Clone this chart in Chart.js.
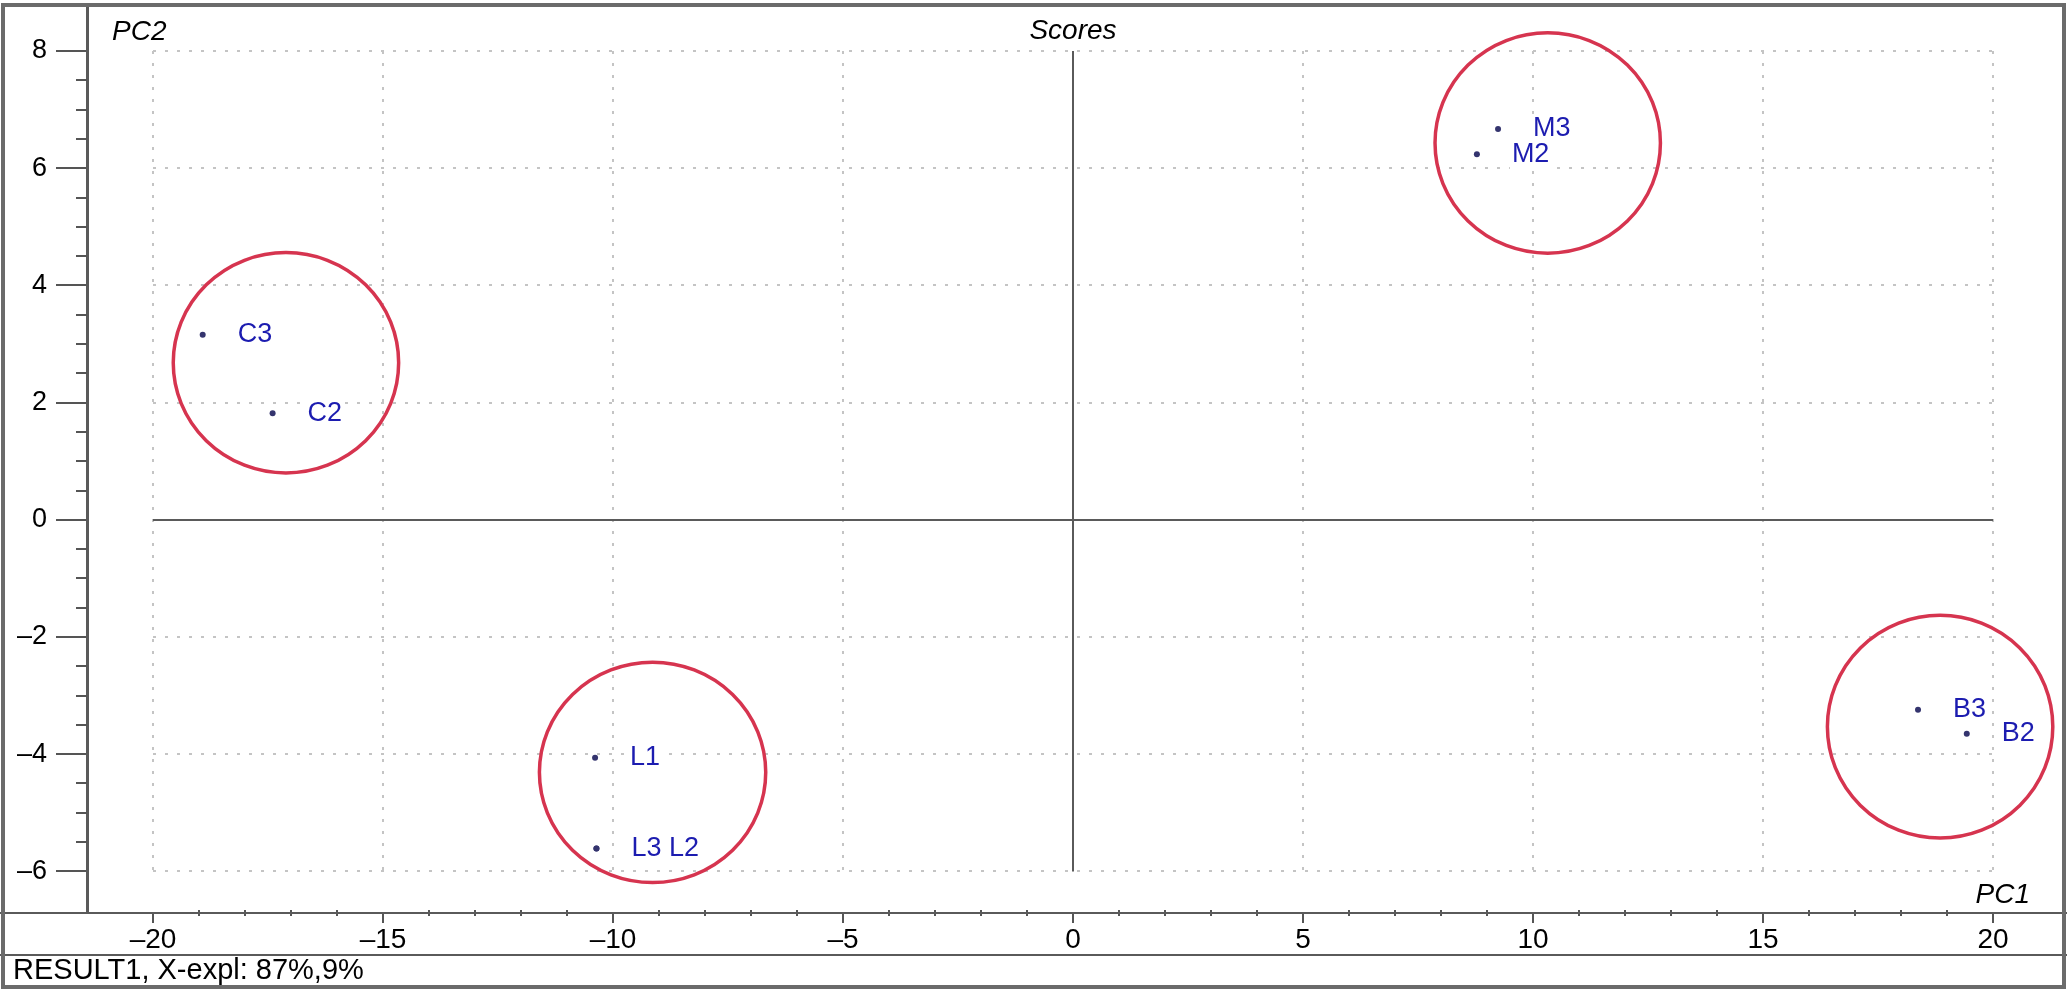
<!DOCTYPE html>
<html>
<head>
<meta charset="utf-8">
<script src="https://cdn.jsdelivr.net/npm/chart.js@4.4.1/dist/chart.umd.min.js"></script>
<style>
    body { margin: 0; background: #fff; }
    #wrap { width: 2067px; height: 992px; }
</style>
</head>
<body>
<div id="wrap"><canvas id="scoresChart" width="2067" height="992"></canvas></div>
<script>
// Sample scores (PC1, PC2)
const sampleNames = ['M3', 'M2', 'C3', 'C2', 'L1', 'L3', 'L2', 'B3', 'B2'];
const pc1Scores = [9.24, 8.78, -18.92, -17.4, -10.39, -10.36, -10.36, 18.37, 19.43];
const pc2Scores = [6.67, 6.24, 3.16, 1.82, -4.06, -5.61, -5.61, -3.24, -3.65];

// Group circles (centre and radius in score units)
const groupCentreX = [10.32, -17.11, -9.14, 18.85];
const groupCentreY = [6.43, 2.68, -4.31, -3.53];
const groupRadiusX = [2.45, 2.45, 2.46, 2.45];
const groupRadiusY = [1.88, 1.88, 1.88, 1.9];

// Axis ticks
const xTickValues = [-20, -15, -10, -5, 0, 5, 10, 15, 20];
const yTickValues = [-6, -4, -2, 0, 2, 4, 6, 8];
const xMinorStep = 1;
const yMinorStep = 0.5;

const plotTitle = 'Scores';
const xAxisName = 'PC1';
const yAxisName = 'PC2';
const statusText = 'RESULT1, X-expl: 87%,9%';

const FONT = '"Liberation Sans", Arial, Helvetica, sans-serif';
const dash = v => String(v).replace('-', '\u2013');

// Grid, origin lines, circles, labels and frame
const scoresPlot = {
    id: 'scoresPlot',
    beforeDatasetsDraw(chart) {
        const { ctx, scales: { x, y } } = chart;
        const left = x.getPixelForValue(xTickValues[0]);
        const right = x.getPixelForValue(xTickValues[xTickValues.length - 1]);
        const top = y.getPixelForValue(yTickValues[yTickValues.length - 1]);
        const bottom = y.getPixelForValue(yTickValues[0]);
        ctx.save();

        // dotted grid
        ctx.strokeStyle = '#c4c4c4';
        ctx.lineWidth = 2;
        ctx.setLineDash([3, 9]);
        xTickValues.forEach(v => {
            if (v === 0) return;
            const px = Math.round(x.getPixelForValue(v));
            ctx.beginPath(); ctx.moveTo(px, top); ctx.lineTo(px, bottom); ctx.stroke();
        });
        yTickValues.forEach(v => {
            if (v === 0) return;
            const py = Math.round(y.getPixelForValue(v));
            ctx.beginPath(); ctx.moveTo(left, py); ctx.lineTo(right, py); ctx.stroke();
        });

        // solid origin lines
        ctx.setLineDash([]);
        ctx.strokeStyle = '#5a5a5a';
        const x0 = Math.round(x.getPixelForValue(0));
        const y0 = Math.round(y.getPixelForValue(0));
        ctx.beginPath(); ctx.moveTo(left, y0); ctx.lineTo(right, y0); ctx.stroke();
        ctx.beginPath(); ctx.moveTo(x0, top); ctx.lineTo(x0, bottom); ctx.stroke();

        // group circles
        ctx.strokeStyle = '#d6344f';
        ctx.lineWidth = 3.5;
        groupCentreX.forEach((cx, i) => {
            const px = x.getPixelForValue(cx);
            const py = y.getPixelForValue(groupCentreY[i]);
            const rx = x.getPixelForValue(cx + groupRadiusX[i]) - px;
            const ry = py - y.getPixelForValue(groupCentreY[i] + groupRadiusY[i]);
            ctx.beginPath();
            ctx.ellipse(px, py, rx, ry, 0, 0, Math.PI * 2);
            ctx.stroke();
        });
        ctx.restore();
    },
    afterDatasetsDraw(chart) {
        const { ctx, scales: { x, y } } = chart;
        ctx.save();
        ctx.font = '27px ' + FONT;
        ctx.textBaseline = 'middle';

        // samples at the same spot share one label
        const groups = [];
        sampleNames.forEach((name, i) => {
            const px = x.getPixelForValue(pc1Scores[i]);
            const py = y.getPixelForValue(pc2Scores[i]);
            const g = groups.find(g => Math.abs(g.px - px) < 1 && Math.abs(g.py - py) < 1);
            if (g) g.text += ' ' + name;
            else groups.push({ px, py, text: name });
        });
        groups.forEach(g => {
            const tx = g.px + 35;
            const w = ctx.measureText(g.text).width;
            ctx.fillStyle = '#fff';
            ctx.fillRect(tx - 2, g.py - 15, w + 4, 30);
            ctx.fillStyle = '#1c1cb0';
            ctx.fillText(g.text, tx, g.py);
        });
        ctx.restore();
    },
    afterDraw(chart) {
        const { ctx, chartArea, scales: { x, y } } = chart;
        const W = chart.width;
        ctx.save();

        // minor ticks
        ctx.strokeStyle = '#555';
        ctx.lineWidth = 2;
        for (let v = yTickValues[0]; v <= yTickValues[yTickValues.length - 1] + 1e-9; v += yMinorStep) {
            if (yTickValues.includes(v)) continue;
            const py = Math.round(y.getPixelForValue(v));
            ctx.beginPath(); ctx.moveTo(chartArea.left - 11, py); ctx.lineTo(chartArea.left, py); ctx.stroke();
        }
        for (let v = xTickValues[0]; v <= xTickValues[xTickValues.length - 1]; v += xMinorStep) {
            if (xTickValues.includes(v)) continue;
            const px = Math.round(x.getPixelForValue(v));
            ctx.beginPath(); ctx.moveTo(px, chartArea.bottom - 3); ctx.lineTo(px, chartArea.bottom + 3); ctx.stroke();
        }

        // frame lines
        ctx.strokeStyle = '#5a5a5a';
        ctx.lineWidth = 2;
        ctx.beginPath(); ctx.moveTo(0, chartArea.bottom); ctx.lineTo(W, chartArea.bottom); ctx.stroke();
        ctx.beginPath(); ctx.moveTo(0, x.bottom); ctx.lineTo(W, x.bottom); ctx.stroke();
        ctx.strokeStyle = '#6b6b6b';
        ctx.lineWidth = 4;
        ctx.strokeRect(3, 5, W - 6, chart.height - 10);

        // texts
        ctx.fillStyle = '#000';
        ctx.textBaseline = 'middle';
        ctx.font = 'italic 28px ' + FONT;
        ctx.textAlign = 'left';
        ctx.fillText(yAxisName, 112, 32);
        ctx.textAlign = 'center';
        ctx.fillText(plotTitle, x.getPixelForValue(0), 31);
        ctx.textAlign = 'right';
        ctx.fillText(xAxisName, 2030, 895);
        ctx.textAlign = 'left';
        ctx.font = '29px ' + FONT;
        ctx.fillText(statusText, 13, 971);
        ctx.restore();
    }
};

const ctx = document.getElementById('scoresChart').getContext('2d');
const scoresChart = new Chart(ctx, {
    type: 'scatter',
    data: {
        datasets: [{
            data: pc1Scores.map((v, i) => ({ x: v, y: pc2Scores[i] })),
            backgroundColor: '#34346e',
            borderWidth: 0,
            pointRadius: 3
        }]
    },
    options: {
        responsive: false,
        animation: false,
        layout: { padding: { left: 5, top: 8, right: 5, bottom: 37 } },
        plugins: { legend: { display: false }, tooltip: { enabled: false } },
        scales: {
            x: {
                type: 'linear',
                min: -21.435,
                max: 21.5,
                afterBuildTicks: s => { s.ticks = xTickValues.map(v => ({ value: v })); },
                afterFit: s => { s.height = 42; s.paddingLeft = 0; s.paddingRight = 0; },
                grid: { drawOnChartArea: false, drawTicks: true, tickLength: 10, color: '#555', lineWidth: 2 },
                border: { display: false },
                ticks: {
                    color: '#000',
                    padding: 0,
                    maxRotation: 0,
                    autoSkip: false,
                    font: { family: FONT, size: 28 },
                    callback: v => dash(v)
                }
            },
            y: {
                type: 'linear',
                min: -6.71,
                max: 8.734,
                afterBuildTicks: s => { s.ticks = yTickValues.map(v => ({ value: v })); },
                afterFit: s => { s.width = 82; s.paddingTop = 0; s.paddingBottom = 0; },
                grid: { drawOnChartArea: false, drawTicks: true, tickLength: 31, color: '#555', lineWidth: 2 },
                border: { display: true, color: '#5a5a5a', width: 3 },
                ticks: {
                    color: '#000',
                    padding: 9,
                    autoSkip: false,
                    font: { family: FONT, size: 27 },
                    callback: v => dash(v)
                }
            }
        }
    },
    plugins: [scoresPlot]
});
</script>
</body>
</html>
